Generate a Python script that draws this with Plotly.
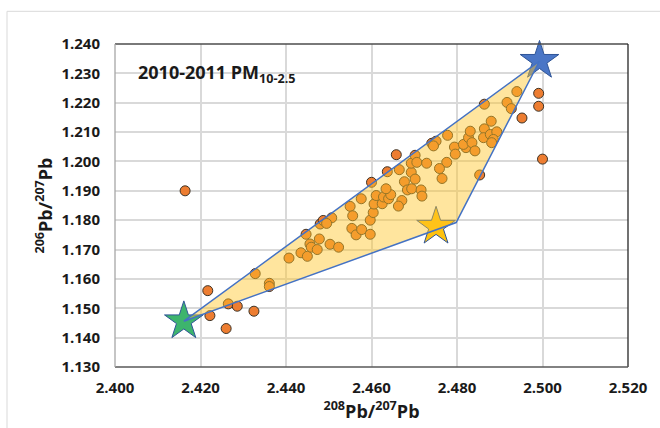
import plotly.graph_objects as go

# ---- data ----
pb208_207 = [
    2.4164, 2.4217, 2.4222, 2.4260, 2.4265, 2.4286, 2.4325, 2.4328, 2.4361, 2.4361,
    2.4407, 2.4435, 2.4450, 2.4447, 2.4456, 2.4459, 2.4478, 2.4473, 2.4480, 2.4487,
    2.4503, 2.4523, 2.4507, 2.4495, 2.4550, 2.4556, 2.4554, 2.4564, 2.4577, 2.4597,
    2.4597, 2.4604, 2.4576, 2.4606, 2.4600, 2.4625, 2.4611, 2.4628, 2.4640, 2.4645,
    2.4634, 2.4637, 2.4658, 2.4665, 2.4671, 2.4663, 2.4677, 2.4684, 2.4694, 2.4693,
    2.4693, 2.4702, 2.4706, 2.4702, 2.4716, 2.4718, 2.4729, 2.4741, 2.4751, 2.4778,
    2.4794, 2.4796, 2.4776, 2.4759, 2.4765, 2.4745, 2.4821, 2.4815, 2.4827, 2.4831,
    2.4835, 2.4842, 2.4864, 2.4862, 2.4878, 2.4880, 2.4893, 2.4885, 2.4881, 2.4864,
    2.4917, 2.4927, 2.4940, 2.4853, 2.4952, 2.4991, 2.4991, 2.5000,
]
pb206_207 = [
    1.1900, 1.1560, 1.1475, 1.1431, 1.1515, 1.1507, 1.1490, 1.1618, 1.1585, 1.1574,
    1.1671, 1.1689, 1.1677, 1.1752, 1.1719, 1.1708, 1.1736, 1.1700, 1.1787, 1.1799,
    1.1718, 1.1708, 1.1808, 1.1789, 1.1847, 1.1815, 1.1772, 1.1750, 1.1768, 1.1752,
    1.1800, 1.1826, 1.1873, 1.1855, 1.1929, 1.1856, 1.1884, 1.1879, 1.1873, 1.1887,
    1.1907, 1.1965, 1.2023, 1.1972, 1.1867, 1.1848, 1.1931, 1.1903, 1.1907, 1.1963,
    1.1994, 1.2021, 1.1997, 1.1940, 1.1903, 1.1882, 1.1994, 1.2062, 1.2069, 1.2089,
    1.2049, 1.2025, 1.1997, 1.1976, 1.1942, 1.2053, 1.2047, 1.2058, 1.2081, 1.2103,
    1.2064, 1.2036, 1.2111, 1.2081, 1.2092, 1.2137, 1.2101, 1.2075, 1.2064, 1.2195,
    1.2201, 1.2180, 1.2238, 1.1954, 1.2148, 1.2232, 1.2188, 1.2008,
]

# end-members (stars)
star_x = [2.4161, 2.4993, 2.4751]
star_y = [1.1456, 1.2343, 1.1778]
star_fill = ["#3DB46D", "#4A76C6", "#FFC20E"]

# mixing triangle
tri_x = [2.4161, 2.4993, 2.4798, 2.4161]
tri_y = [1.1456, 1.2342, 1.1792, 1.1456]

x_ticks = [2.400, 2.420, 2.440, 2.460, 2.480, 2.500, 2.520]
y_ticks = [1.130, 1.140, 1.150, 1.160, 1.170, 1.180, 1.190, 1.200, 1.210, 1.220, 1.230, 1.240]

FONT = "Open Sans"

fig = go.Figure()

fig.add_trace(go.Scatter(
    x=pb208_207, y=pb206_207, mode="markers",
    marker=dict(size=10, color="#ED7D31", line=dict(color="#3D3326", width=1)),
    cliponaxis=False, showlegend=False, hoverinfo="x+y",
))

fig.add_trace(go.Scatter(
    x=star_x, y=star_y, mode="markers",
    marker=dict(symbol="star", size=29, color=star_fill,
                line=dict(color="#2F5597", width=1)),
    cliponaxis=False, showlegend=False,
))

fig.add_trace(go.Scatter(
    x=tri_x, y=tri_y, mode="lines", fill="toself",
    fillcolor="rgba(255,198,40,0.45)",
    line=dict(color="#4472C4", width=1.5),
    cliponaxis=False, showlegend=False, hoverinfo="skip",
))

L, R, T, B = 115, 32, 44, 58
W, H = 660, 428
pw, ph = W - L - R, H - T - B

def px(xp):
    return (xp - L) / pw

def py(yp):
    return 1 - (yp - T) / ph

shapes = [
    # outer chart border (light grey)
    dict(type="line", xref="paper", yref="paper", x0=px(7), x1=px(W + 5), y0=py(11), y1=py(11),
         line=dict(color="#D9D9D9", width=1)),
    dict(type="line", xref="paper", yref="paper", x0=px(7), x1=px(7), y0=py(11), y1=py(H + 5),
         line=dict(color="#D9D9D9", width=1)),
    # plot frame
    dict(type="line", xref="paper", yref="paper", x0=0, x1=1, y0=1, y1=1,
         line=dict(color="#4D4D4D", width=1.3), layer="above"),
    dict(type="line", xref="paper", yref="paper", x0=1, x1=1, y0=0, y1=1,
         line=dict(color="#262626", width=1.3), layer="above"),
    dict(type="line", xref="paper", yref="paper", x0=0, x1=1, y0=0, y1=0,
         line=dict(color="#595959", width=1.3), layer="above"),
    dict(type="line", xref="paper", yref="paper", x0=0, x1=0, y0=0, y1=1,
         line=dict(color="#A6A6A6", width=1.3), layer="above"),
]

fig.update_layout(
    width=W, height=H,
    margin=dict(l=L, r=R, t=T, b=B),
    paper_bgcolor="white", plot_bgcolor="white",
    font=dict(family=FONT, color="#1A1A1A"),
    shapes=shapes,
    xaxis=dict(
        range=[2.400, 2.520], tickvals=x_ticks, tickformat=".3f",
        showgrid=True, gridcolor="#D9D9D9", gridwidth=1.5,
        zeroline=False, showline=False, ticks="",
        tickfont=dict(family=FONT, size=15, color="#1A1A1A", weight="bold"),
        ticklabelstandoff=10,
        title=dict(text="<b><sup>208</sup>Pb/<sup>207</sup>Pb</b>",
                   font=dict(family=FONT, size=18, color="#1A1A1A"), standoff=6),
    ),
    yaxis=dict(
        range=[1.130, 1.240], tickvals=y_ticks, tickformat=".3f",
        showgrid=True, gridcolor="#D9D9D9", gridwidth=1.5,
        zeroline=False, showline=False, ticks="",
        tickfont=dict(family=FONT, size=15, color="#1A1A1A", weight="bold"),
        ticklabelstandoff=14,
        title=dict(text="<b><sup>206</sup>Pb/<sup>207</sup>Pb</b>",
                   font=dict(family=FONT, size=18, color="#1A1A1A"), standoff=4),
    ),
    annotations=[dict(
        text="<b>2010-2011 PM<sub>10-2.5</sub></b>",
        xref="paper", yref="paper", x=px(136), y=py(74),
        xanchor="left", yanchor="middle", showarrow=False,
        font=dict(family=FONT, size=18, color="#1A1A1A"),
    )],
)

fig.write_html("out.html")
